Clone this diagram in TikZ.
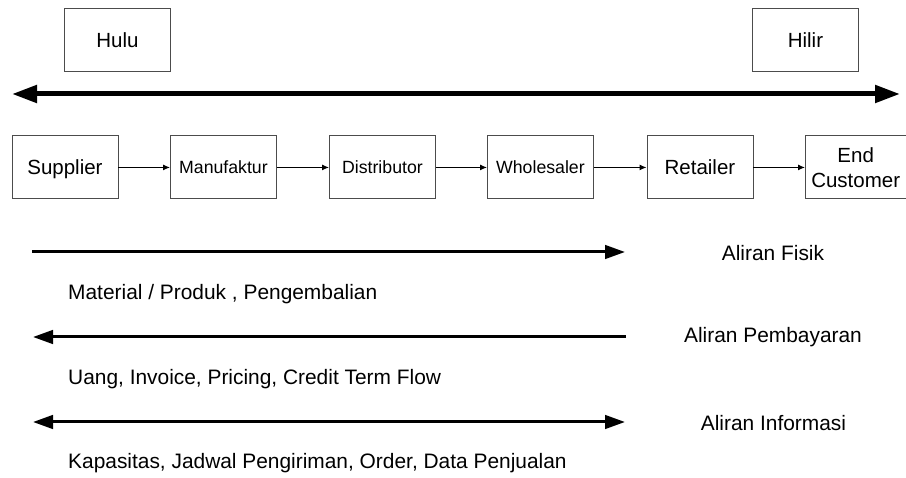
\documentclass[tikz,border=0pt]{standalone}
\usepackage{fontspec}
\setmainfont{Liberation Sans}
\usetikzlibrary{arrows.meta}

\tikzset{
  box/.style={draw=black!70, line width=0.9pt, fill=white, minimum width=106pt,
    minimum height=63pt, inner sep=0pt, anchor=north west},
  bigtxt/.style={font=\fontsize{20.5}{25}\selectfont},
  smalltxt/.style={font=\fontsize{17.7}{22}\selectfont},
  capbig/.style={bigtxt, text height=14.7pt, text depth=0pt},
  capsmall/.style={smalltxt, text height=12.7pt, text depth=0pt},
  link/.style={line width=1pt, -{Latex[length=7pt,width=6pt]}},
  spine/.style={line width=5pt, {Triangle[length=25pt,width=17pt]}-{Triangle[length=25pt,width=17pt]}},
  flowtip/.tip={Triangle[length=20pt,width=13.5pt]},
  flow/.style={line width=3pt},
  note/.style={font=\fontsize{20.9}{25}\selectfont, inner sep=0pt},
}

\begin{document}
\begin{tikzpicture}[x=1pt, y=-1pt]
  \useasboundingbox (0,0) rectangle (906,478);

  % upstream / downstream markers
  \node[box, capbig] (hulu) at (64,8) {Hulu};
  \node[box, capbig] (hilir) at (752,8) {Hilir};

  % main direction axis
  \coordinate (axisL) at (12,94);
  \coordinate (axisR) at (900,94);
  \draw[spine] (axisL) -- (axisR);

  % chain members
  \node[box, capbig]   (sup) at (11.5,135.5) {Supplier};
  \node[box, capsmall] (man) at (170,135.5) {Manufaktur};
  \node[box, capsmall] (dis) at (329,135.5) {Distributor};
  \node[box, capsmall] (who) at (487,135.5) {Wholesaler};
  \node[box, capbig]   (ret) at (646.5,135.5) {Retailer};
  \node[box, bigtxt, align=center, minimum width=100.5pt] (cus) at (805,135.5) {End\\Customer};

  \draw[link] (sup.east) -- (man.west);
  \draw[link] (man.east) -- (dis.west);
  \draw[link] (dis.east) -- (who.west);
  \draw[link] (who.east) -- (ret.west);
  \draw[link] (ret.east) -- (cus.west);

  % physical flow
  \coordinate (fL) at (32,252);
  \coordinate (fR) at (625,252);
  \draw[flow, -flowtip] (fL) -- (fR);
  \node[note] (fisik) at (773,253) {Aliran Fisik};
  \node[note, anchor=west] (fisikTxt) at (68,294) {Material / Produk , Pengembalian};

  % payment flow
  \coordinate (pR) at (626,337);
  \coordinate (pL) at (33,337);
  \draw[flow, -flowtip] (pR) -- (pL);
  \node[note] (bayar) at (773,337) {Aliran Pembayaran};
  \node[note, anchor=west] (bayarTxt) at (68,379) {Uang, Invoice, Pricing, Credit Term Flow};

  % information flow
  \coordinate (iL) at (33,422);
  \coordinate (iR) at (625,422);
  \draw[flow, flowtip-flowtip] (iL) -- (iR);
  \node[note] (info) at (773.5,423) {Aliran Informasi};
  \node[note, anchor=west] (infoTxt) at (68,463) {Kapasitas, Jadwal Pengiriman, Order, Data Penjualan};
\end{tikzpicture}
\end{document}
